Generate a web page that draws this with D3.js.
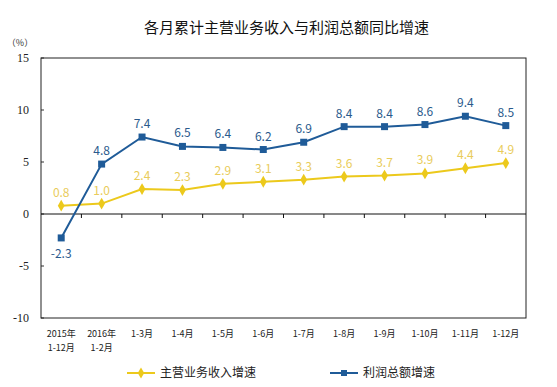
<!DOCTYPE html>
<html>
<head>
<meta charset="utf-8">
<script src="https://cdn.jsdelivr.net/npm/d3@7"></script>
<style>
  body { margin: 0; background: #fff; }
  text { font-family: "Noto Sans CJK SC", "DejaVu Sans", sans-serif; }
</style>
</head>
<body>
<script>
(function() {
    var w = 557,
        h = 387;
    // chart data
    var months = [['2015年', '1-12月'], ['2016年', '1-2月'], ['1-3月'], ['1-4月'], ['1-5月'], ['1-6月'],
                  ['1-7月'], ['1-8月'], ['1-9月'], ['1-10月'], ['1-11月'], ['1-12月']];
    var revenue = [0.8, 1.0, 2.4, 2.3, 2.9, 3.1, 3.3, 3.6, 3.7, 3.9, 4.4, 4.9];
    var profit = [-2.3, 4.8, 7.4, 6.5, 6.4, 6.2, 6.9, 8.4, 8.4, 8.6, 9.4, 8.5];
    var yTicks = [-10, -5, 0, 5, 10, 15];
    var seriesNames = ['主营业务收入增速', '利润总额增速'];

    var blue = '#1f5b98',
        yellow = '#ecc91c',
        yellowText = '#e9cc5a';

    var left = 41, right = 526, top = 58, bottom = 318;
    var fmt = function(d) { return d.toFixed(1); };

    var svg = d3.select('body')
        .append('svg')
        .attr('width', w)
        .attr('height', h);

    var x = d3.scaleBand()
        .domain(d3.range(months.length))
        .range([left, right]);
    var y = d3.scaleLinear()
        .domain([-10, 15])
        .range([bottom, top]);

    svg.append('text')
        .attr('x', w / 2 + 8)
        .attr('y', 33)
        .attr('text-anchor', 'middle')
        .attr('font-size', 15)
        .attr('fill', '#111')
        .text('各月累计主营业务收入与利润总额同比增速');

    svg.append('text')
        .attr('x', 20)
        .attr('y', 46)
        .attr('text-anchor', 'middle')
        .attr('font-size', 9)
        .attr('fill', '#333')
        .text('（%）');

    // y axis labels
    svg.selectAll('.ytick')
        .data(yTicks)
        .enter()
        .append('text')
        .attr('x', 29)
        .attr('y', function(d) { return y(d) + 4; })
        .attr('text-anchor', 'end')
        .style('font-family', '"Liberation Serif", serif')
        .attr('font-size', 12)
        .attr('fill', '#222')
        .text(function(d) { return d; });

    svg.selectAll('.ytickline')
        .data(yTicks)
        .enter()
        .append('line')
        .attr('x1', left)
        .attr('x2', left + 3)
        .attr('y1', function(d) { return y(d); })
        .attr('y2', function(d) { return y(d); })
        .attr('stroke', '#333');

    // frame
    svg.append('rect')
        .attr('x', left)
        .attr('y', top)
        .attr('width', right - left)
        .attr('height', bottom - top)
        .attr('fill', 'none')
        .attr('stroke', '#222')
        .attr('stroke-width', 1);

    // zero line + ticks
    svg.append('line')
        .attr('x1', left).attr('x2', right)
        .attr('y1', y(0)).attr('y2', y(0))
        .attr('stroke', '#111');
    svg.selectAll('.xtick')
        .data(d3.range(1, months.length))
        .enter()
        .append('line')
        .attr('x1', function(d) { return x(d); })
        .attr('x2', function(d) { return x(d); })
        .attr('y1', y(0))
        .attr('y2', y(0) + 4)
        .attr('stroke', '#111');

    // x labels
    var xl = svg.selectAll('.xlab')
        .data(months)
        .enter()
        .append('text')
        .attr('text-anchor', 'middle')
        .attr('font-size', 9)
        .attr('fill', '#222');
    xl.selectAll('tspan')
        .data(function(d, i) { return d.map(function(s) { return [s, i]; }); })
        .enter()
        .append('tspan')
        .attr('x', function(d) { return x(d[1]) + x.bandwidth() / 2; })
        .attr('y', function(d, j) { return 337 + j * 14; })
        .text(function(d) { return d[0]; });

    var cx = function(d, i) { return x(i) + x.bandwidth() / 2; };
    var line = d3.line()
        .x(cx)
        .y(function(d) { return y(d); });

    // revenue series
    svg.append('path')
        .datum(revenue)
        .attr('d', line)
        .attr('fill', 'none')
        .attr('stroke', yellow)
        .attr('stroke-width', 2);
    svg.selectAll('.rpt')
        .data(revenue)
        .enter()
        .append('path')
        .attr('d', d3.symbol().type(d3.symbolDiamond).size(40))
        .attr('transform', function(d, i) { return 'translate(' + cx(d, i) + ',' + y(d) + ')'; })
        .attr('fill', yellow);
    svg.selectAll('.rlab')
        .data(revenue)
        .enter()
        .append('text')
        .attr('x', cx)
        .attr('y', function(d) { return y(d) - 9; })
        .attr('text-anchor', 'middle')
        .attr('font-size', 12)
        .attr('fill', yellowText)
        .text(fmt);

    // profit series
    svg.append('path')
        .datum(profit)
        .attr('d', line)
        .attr('fill', 'none')
        .attr('stroke', blue)
        .attr('stroke-width', 2);
    svg.selectAll('.ppt')
        .data(profit)
        .enter()
        .append('rect')
        .attr('x', function(d, i) { return cx(d, i) - 3.5; })
        .attr('y', function(d) { return y(d) - 3.5; })
        .attr('width', 7)
        .attr('height', 7)
        .attr('fill', blue);
    svg.selectAll('.plab')
        .data(profit)
        .enter()
        .append('text')
        .attr('x', cx)
        .attr('y', function(d) { return d < 0 ? y(d) + 20 : y(d) - 9; })
        .attr('text-anchor', 'middle')
        .attr('font-size', 12)
        .attr('fill', '#2a5a8c')
        .text(fmt);

    // legend
    var legend = [{ x: 127, c: yellow, t: seriesNames[0], diamond: true },
                  { x: 330, c: blue, t: seriesNames[1], diamond: false }];
    legend.forEach(function(l) {
        var g = svg.append('g').attr('transform', 'translate(' + l.x + ',373)');
        g.append('line').attr('x1', 0).attr('x2', 28).attr('stroke', l.c).attr('stroke-width', 2);
        if (l.diamond) {
            g.append('path').attr('d', d3.symbol().type(d3.symbolDiamond).size(36))
                .attr('transform', 'translate(14,0)').attr('fill', l.c);
        } else {
            g.append('rect').attr('x', 11).attr('y', -3).attr('width', 6).attr('height', 6).attr('fill', l.c);
        }
        g.append('text').attr('x', 33).attr('y', 4).attr('font-size', 12)
            .attr('fill', '#222').text(l.t);
    });
})();
</script>
</body>
</html>
